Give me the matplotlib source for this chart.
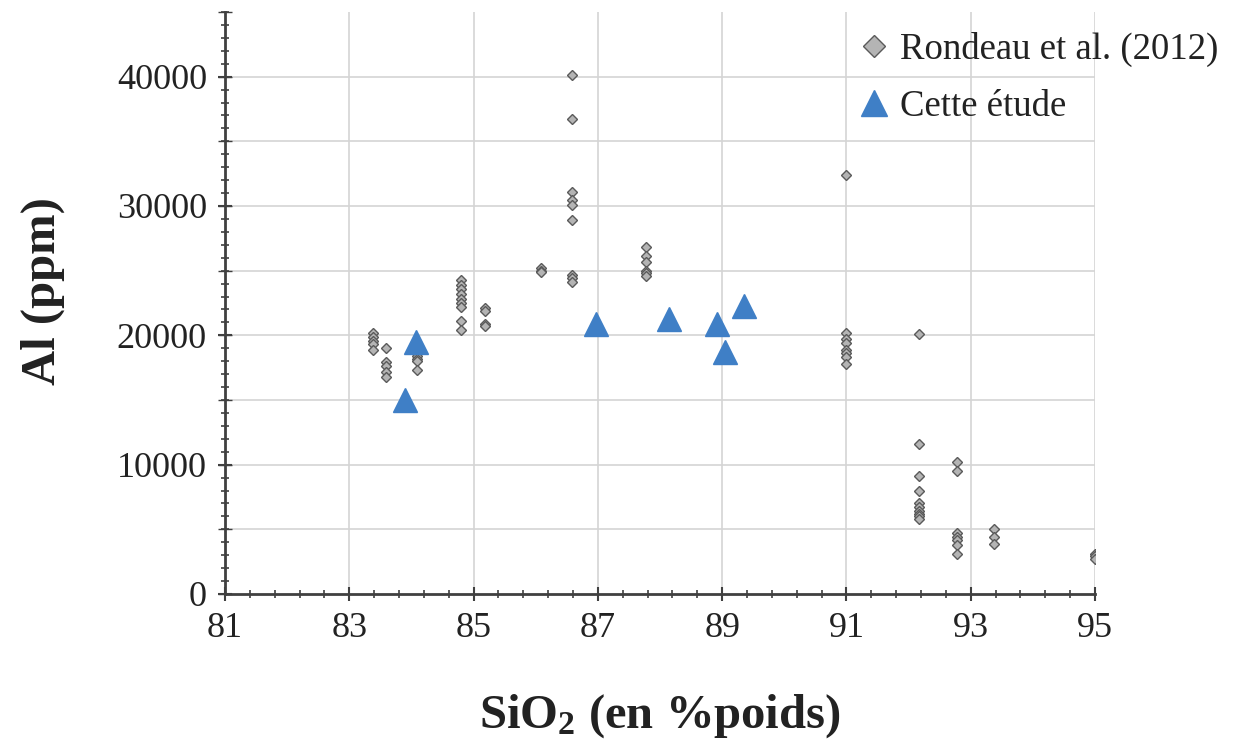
import matplotlib
matplotlib.use("Agg")
import matplotlib.pyplot as plt
import numpy as np
from matplotlib.ticker import MultipleLocator, FixedLocator

plt.rcParams['font.family'] = ['Liberation Serif', 'DejaVu Serif']
plt.rcParams['mathtext.fontset'] = 'custom'
plt.rcParams['mathtext.rm'] = 'Liberation Serif'
plt.rcParams['mathtext.bf'] = 'Liberation Serif:bold'
plt.rcParams['mathtext.default'] = 'bf'

# Rondeau et al. (2012): SiO2 (wt%) and Al (ppm)
rondeau_sio2 = ([83.38] * 5 + [83.59] * 5 + [84.09] * 4 + [84.80] * 9 + [85.18] * 4
                + [86.08] * 3 + [86.58] * 9 + [87.77] * 6 + [91.0] * 8
                + [92.17] * 10 + [92.78] * 7 + [93.38] * 3 + [95.0] * 3)
rondeau_al = [20200, 19900, 19600, 19300, 18900,
              19000, 17900, 17600, 17200, 16800,
              18400, 18200, 18000, 17300,
              24300, 23900, 23600, 23200, 22800, 22500, 22200, 21100, 20400,
              22100, 21900, 20900, 20700,
              25200, 25000, 24900,
              40100, 36700, 31100, 30500, 30100, 28900, 24700, 24400, 24100,
              26800, 26100, 25700, 25000, 24800, 24600,
              32400, 20200, 19700, 19400, 18900, 18600, 18300, 17800,
              20100, 11600, 9100, 8000, 7000, 6700, 6400, 6200, 6000, 5800,
              10200, 9500, 4700, 4400, 4200, 3800, 3100,
              5000, 4400, 3900,
              3100, 2900, 2700]

# Cette étude
etude_sio2 = [84.07, 83.90, 86.97, 88.15, 88.92, 89.05, 89.35]
etude_al = [19500, 15000, 20850, 21250, 20850, 18700, 22250]

x_labels = [81, 83, 85, 87, 89, 91, 93, 95]
y_labels = [0, 10000, 20000, 30000, 40000]

fig = plt.figure(figsize=(12.35, 7.4), dpi=100)
ax = fig.add_axes([225 / 1235, 1 - 594 / 740, 870 / 1235, 582 / 740])

ax.plot(rondeau_sio2, rondeau_al, linestyle='none', marker='D', markersize=5,
        markerfacecolor='#b4b4b4', markeredgecolor='#5a5a5a', markeredgewidth=1,
        label='Rondeau et al. (2012)', zorder=3)
ax.plot(etude_sio2, etude_al, linestyle='none', marker='^', markersize=17,
        markerfacecolor='#3f7fc6', markeredgecolor='#3f7fc6',
        label='Cette étude', zorder=4)

ax.set_xlim(81, 95)
ax.set_ylim(0, 45000)

ax.xaxis.set_major_locator(FixedLocator(x_labels))
ax.xaxis.set_minor_locator(FixedLocator(np.linspace(81, 95, 36)))
ax.yaxis.set_major_locator(FixedLocator(y_labels))
ax.yaxis.set_minor_locator(MultipleLocator(1000))

# grid lines every 2 % and 5000 ppm
for gx in x_labels[1:]:
    ax.axvline(gx, color='#d4d4d4', linewidth=1.2, zorder=1)
for gy in range(5000, 45000, 5000):
    ax.axhline(gy, color='#d4d4d4', linewidth=1.2, zorder=1)
# unlabeled major y ticks at 5000 steps
ax.plot([81] * 10, list(range(0, 50000, 5000)), linestyle='none', marker='_',
        markersize=10, color='#404040', clip_on=False, zorder=5)

for s in ['top', 'right']:
    ax.spines[s].set_visible(False)
for s in ['left', 'bottom']:
    ax.spines[s].set_color('#404040')
    ax.spines[s].set_linewidth(2)

ax.tick_params(axis='both', which='major', direction='inout', length=10, width=1.5,
               colors='#404040', labelcolor='#222222', labelsize=26, pad=8)
ax.tick_params(axis='both', which='minor', direction='inout', length=6, width=1.2,
               colors='#404040')

ax.set_xlabel('SiO$_2$ (en %poids)', fontsize=35, fontweight='bold', color='#222222',
              labelpad=34)
ax.set_ylabel('Al (ppm)', fontsize=35, fontweight='bold', color='#222222')
ax.yaxis.set_label_coords(-0.184, 0.52)

leg = fig.legend(loc='upper left', bbox_to_anchor=(843 / 1235, 1 - 17 / 740),
                 frameon=False, fontsize=26.5, handletextpad=0.25, labelspacing=0.62,
                 borderaxespad=0, handlelength=0.9, markerscale=1.0)
leg.legend_handles[0].set_markersize(11)
leg.legend_handles[1].set_markersize(19)
for t in leg.get_texts():
    t.set_color('#222222')

fig.savefig('out.png', dpi=100)
